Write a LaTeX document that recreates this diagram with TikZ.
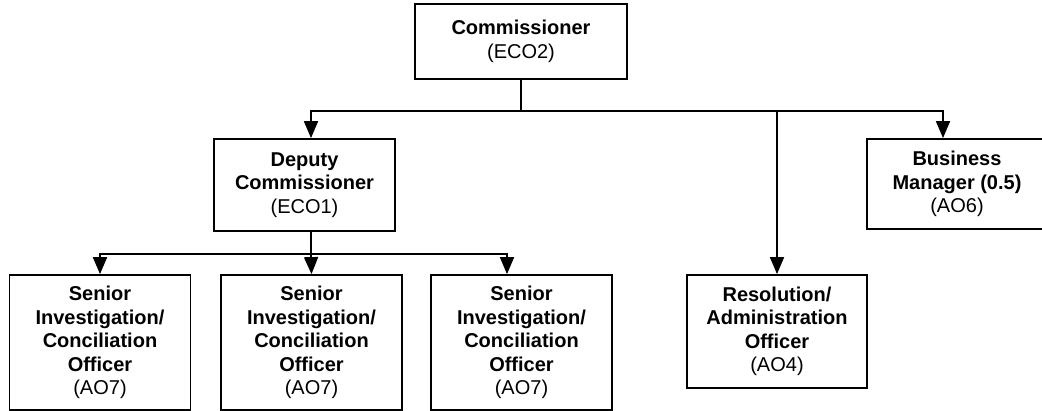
\documentclass[tikz,border=0pt]{standalone}
\usepackage{fontspec}
\setmainfont{Liberation Sans}
\usetikzlibrary{arrows.meta}
\tikzset{
  poste/.style={draw,line width=1.8pt,align=center,inner sep=0pt,
    font=\fontsize{20}{23.5}\selectfont},
  fleche/.style={line width=1.8pt,-{Triangle[width=14pt,length=17pt]}},
  trait/.style={line width=1.8pt}
}
\begin{document}
\begin{tikzpicture}[x=1pt,y=-1pt]
\pgfmathsetmacro{\larg}{181}
\pgfmathsetmacro{\ybas}{342.5}
\pgfmathsetmacro{\hbas}{135}
\pgfmathsetmacro{\yhaut}{111}
\pgfmathsetmacro{\ymilieu}{254}
  \useasboundingbox (0,0) rectangle (1042,411);
  \node[poste,minimum width=212pt,minimum height=75pt] (comm) at (521,41.5)
    {\textbf{Commissioner}\\(ECO2)};
  \node[poste,minimum width=\larg pt,minimum height=92pt] (adj) at (304.5,185)
    {\textbf{Deputy}\\\textbf{Commissioner}\\(ECO1)};
  \node[poste,minimum width=180pt,minimum height=90pt] (gest) at (957,184)
    {\textbf{Business}\\\textbf{Manager (0.5)}\\(AO6)};
  \node[poste,minimum width=180pt,minimum height=113pt] (resol) at (777,331.5)
    {\textbf{Resolution/}\\\textbf{Administration}\\\textbf{Officer}\\(AO4)};
  \node[poste,minimum width=\larg pt,minimum height=\hbas pt] (agentun) at (100,\ybas)
    {\textbf{Senior}\\\textbf{Investigation/}\\\textbf{Conciliation}\\\textbf{Officer}\\(AO7)};
  \node[poste,minimum width=\larg pt,minimum height=\hbas pt] (agentdeux) at (311.5,\ybas)
    {\textbf{Senior}\\\textbf{Investigation/}\\\textbf{Conciliation}\\\textbf{Officer}\\(AO7)};
  \node[poste,minimum width=\larg pt,minimum height=\hbas pt] (agenttrois) at (521.5,\ybas)
    {\textbf{Senior}\\\textbf{Investigation/}\\\textbf{Conciliation}\\\textbf{Officer}\\(AO7)};
  \coordinate (nœud) at (comm.south |- 0,\yhaut);
  \draw[trait] (comm.south) -- (nœud);
  \draw[fleche] (nœud) -| ([xshift=6.5pt]adj.north);
  \draw[fleche] (nœud) -| (resol.north);
  \draw[fleche] (nœud) -| ([xshift=-14pt]gest.north);
  \coordinate (branche) at ([xshift=6.5pt]adj.south |- 0,\ymilieu);
  \draw[trait] ([xshift=6.5pt]adj.south) -- (branche);
  \draw[fleche] (branche) -| (agentun.north);
  \draw[fleche] (branche) -- (agentdeux.north);
  \draw[fleche] (branche) -| ([xshift=-14.5pt]agenttrois.north);
\end{tikzpicture}
\end{document}
